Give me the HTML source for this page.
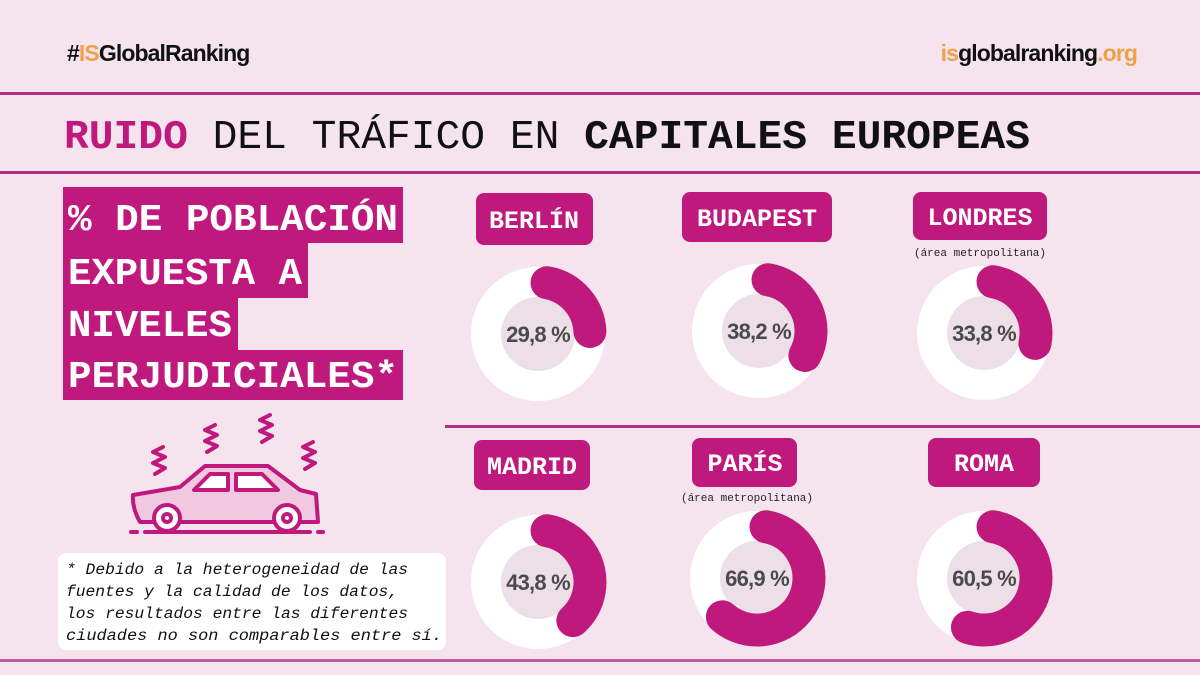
<!DOCTYPE html>
<html><head><meta charset="utf-8"><style>
html,body{margin:0;padding:0;background:#f5e4ee;}
svg{display:block}
</style></head><body>
<svg width="1200" height="675" viewBox="0 0 1200 675" xmlns="http://www.w3.org/2000/svg">
<rect width="1200" height="675" fill="#f5e4ee"/>
<text x="67" y="61" font-family="Liberation Sans, sans-serif" font-weight="bold" font-size="23" fill="#111" letter-spacing="-0.9">#<tspan fill="#f0a04b">IS</tspan>GlobalRanking</text>
<text x="1137" y="61" text-anchor="end" font-family="Liberation Sans, sans-serif" font-weight="bold" font-size="23" fill="#111" letter-spacing="-0.9"><tspan fill="#f0a04b">is</tspan>globalranking<tspan fill="#f0a04b">.org</tspan></text>
<rect x="0" y="92" width="1200" height="3" fill="#b0307f"/>
<rect x="0" y="171" width="1200" height="3" fill="#b0307f"/>
<rect x="0" y="659" width="1200" height="3" fill="#c05aa0"/>
<rect x="445" y="425" width="755" height="3" fill="#b0307f"/>
<text x="64" y="148" font-family="Liberation Mono, monospace" font-size="41" fill="#111" textLength="966" lengthAdjust="spacingAndGlyphs"><tspan font-weight="bold" fill="#c0197d">RUIDO</tspan> DEL TRÁFICO EN <tspan font-weight="bold">CAPITALES EUROPEAS</tspan></text>
<g fill="#c0197d">
<rect x="63" y="187" width="340" height="56"/>
<rect x="63" y="242" width="245" height="56"/>
<rect x="63" y="297" width="175" height="54"/>
<rect x="63" y="350" width="340" height="50"/>
</g>
<g font-family="Liberation Mono, monospace" font-weight="bold" font-size="38" fill="#fff">
<text x="68" y="230" textLength="330" lengthAdjust="spacingAndGlyphs">% DE POBLACIÓN</text>
<text x="68" y="284" textLength="234" lengthAdjust="spacingAndGlyphs">EXPUESTA A</text>
<text x="68" y="336" textLength="164" lengthAdjust="spacingAndGlyphs">NIVELES</text>
<text x="68" y="387" textLength="330" lengthAdjust="spacingAndGlyphs">PERJUDICIALES*</text>
</g>
<!-- car -->
<g fill="none" stroke="#c0197d" stroke-width="4" stroke-linecap="round" stroke-linejoin="round">
<path d="M163 447 l-10 5 l12 5 l-12 6 l12 5 l-10 6" />
<path d="M215 425 l-10 5 l12 5 l-12 6 l12 5 l-10 6" />
<path d="M270 415 l-10 5 l12 5 l-12 6 l12 5 l-10 6" />
<path d="M313 442 l-10 5 l12 5 l-12 6 l12 5 l-10 6" />
<path d="M133 495 L180 487 L205 466 L268 466 L300 490 L316 494 L318 522 L140 522 Q132 508 133 495 Z" fill="#f0c8df"/>
<path d="M194 490 L210 474 L228 474 L228 490 Z" fill="#fff"/>
<path d="M236 474 L262 474 L278 490 L236 490 Z" fill="#fff"/>
<circle cx="167" cy="518" r="13" fill="#fff"/>
<circle cx="287" cy="518" r="13" fill="#fff"/>
<circle cx="167" cy="518" r="4"/>
<circle cx="287" cy="518" r="4"/>
<path d="M131 532 L137 532 M145 532 L310 532 M318 532 L323 532"/>
</g>
<!-- footnote -->
<rect x="58" y="553" width="388" height="97" rx="8" fill="#fff"/>
<g font-family="Liberation Mono, monospace" font-style="italic" font-size="15.5" fill="#111">
<text x="66" y="574" textLength="342" lengthAdjust="spacingAndGlyphs">* Debido a la heterogeneidad de las</text>
<text x="66" y="596" textLength="332" lengthAdjust="spacingAndGlyphs">fuentes y la calidad de los datos,</text>
<text x="66" y="618" textLength="342" lengthAdjust="spacingAndGlyphs">los resultados entre las diferentes</text>
<text x="66" y="640" textLength="376" lengthAdjust="spacingAndGlyphs">ciudades no son comparables entre sí.</text>
</g>
<!-- labels -->
<g fill="#c0197d">
<rect x="476" y="193" width="117" height="52" rx="8"/>
<rect x="682" y="192" width="150" height="50" rx="8"/>
<rect x="913" y="192" width="134" height="48" rx="8"/>
<rect x="474" y="440" width="116" height="50" rx="8"/>
<rect x="692" y="438" width="105" height="49" rx="8"/>
<rect x="928" y="438" width="112" height="49" rx="8"/>
</g>
<g font-family="Liberation Mono, monospace" font-weight="bold" font-size="25" fill="#fff" text-anchor="middle">
<text x="534" y="228">BERLÍN</text>
<text x="757" y="226">BUDAPEST</text>
<text x="980" y="225">LONDRES</text>
<text x="532" y="474">MADRID</text>
<text x="745" y="471">PARÍS</text>
<text x="984" y="471">ROMA</text>
</g>
<g font-family="Liberation Mono, monospace" font-size="11" fill="#222" text-anchor="middle">
<text x="980" y="256">(área metropolitana)</text>
<text x="747" y="501">(área metropolitana)</text>
</g>
<!-- donuts -->
<g>
<g transform="translate(538,334)"><circle r="37" fill="#eddfe7"/><circle r="52" fill="none" stroke="#fff" stroke-width="30"/><circle r="52" fill="none" stroke="#c0197d" stroke-width="33" stroke-linecap="round" stroke-dasharray="70 1000" transform="rotate(-80)"/></g>
<g transform="translate(759,331)"><circle r="37" fill="#eddfe7"/><circle r="52" fill="none" stroke="#fff" stroke-width="30"/><circle r="52" fill="none" stroke="#c0197d" stroke-width="33" stroke-linecap="round" stroke-dasharray="98 1000" transform="rotate(-80)"/></g>
<g transform="translate(984,333)"><circle r="37" fill="#eddfe7"/><circle r="52" fill="none" stroke="#fff" stroke-width="30"/><circle r="52" fill="none" stroke="#c0197d" stroke-width="33" stroke-linecap="round" stroke-dasharray="83 1000" transform="rotate(-80)"/></g>
<g transform="translate(538,582)"><circle r="37" fill="#eddfe7"/><circle r="52" fill="none" stroke="#fff" stroke-width="30"/><circle r="52" fill="none" stroke="#c0197d" stroke-width="33" stroke-linecap="round" stroke-dasharray="116 1000" transform="rotate(-80)"/></g>
<g transform="translate(757,578)"><circle r="37" fill="#eddfe7"/><circle r="52" fill="none" stroke="#fff" stroke-width="30"/><circle r="52" fill="none" stroke="#c0197d" stroke-width="33" stroke-linecap="round" stroke-dasharray="192 1000" transform="rotate(-80)"/></g>
<g transform="translate(984,578)"><circle r="37" fill="#eddfe7"/><circle r="52" fill="none" stroke="#fff" stroke-width="30"/><circle r="52" fill="none" stroke="#c0197d" stroke-width="33" stroke-linecap="round" stroke-dasharray="171 1000" transform="rotate(-80)"/></g>
</g>
<g font-family="Liberation Sans, sans-serif" font-weight="bold" font-size="22" fill="#4a4a4a" text-anchor="middle" letter-spacing="-0.8">
<text x="538" y="342">29,8 %</text>
<text x="759" y="339">38,2 %</text>
<text x="984" y="341">33,8 %</text>
<text x="538" y="590">43,8 %</text>
<text x="757" y="586">66,9 %</text>
<text x="984" y="586">60,5 %</text>
</g>
</svg>
</body></html>
